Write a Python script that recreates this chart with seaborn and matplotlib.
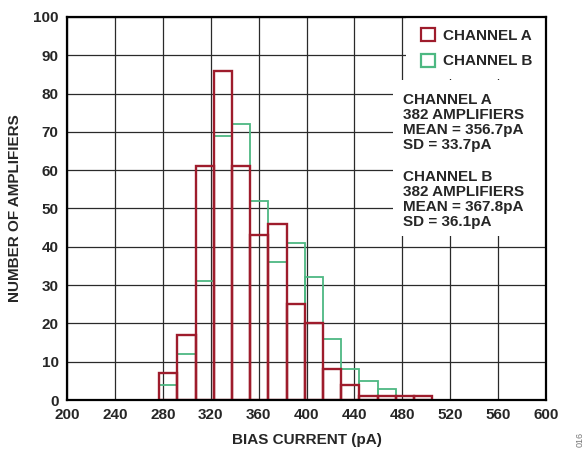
import numpy as np
import pandas as pd
import matplotlib
matplotlib.use("Agg")
import matplotlib.pyplot as plt
from matplotlib.patches import Patch, Rectangle
import seaborn as sns

# Histogram bins (pA) and amplifier counts per bin
bin_start = 277.0
bin_width = 15.2
n_bins = 15
counts_a = [7, 17, 61, 86, 61, 43, 46, 25, 20, 8, 4, 1, 1, 1, 1]
counts_b = [4, 12, 31, 69, 72, 52, 36, 41, 32, 16, 8, 5, 3, 0, 0]

labels = ["CHANNEL A", "CHANNEL B"]
stats_a = ["CHANNEL A", "382 AMPLIFIERS", "MEAN = 356.7pA", "SD = 33.7pA"]
stats_b = ["CHANNEL B", "382 AMPLIFIERS", "MEAN = 367.8pA", "SD = 36.1pA"]

x_ticks = list(range(200, 601, 40))
y_ticks = list(range(0, 101, 10))

RED = "#9E1C2C"
GREEN = "#4DB882"

sns.set_style("white")
plt.rcParams["font.family"] = ["Liberation Sans", "DejaVu Sans"]
plt.rcParams["font.weight"] = "bold"
plt.rcParams["font.size"] = 11

edges = bin_start + bin_width * np.arange(n_bins + 1)
centers = (edges[:-1] + edges[1:]) / 2

fig = plt.figure(figsize=(5.84, 4.50), dpi=100)
ax = fig.add_axes([67 / 584, 50 / 450, 479 / 584, 383 / 450])


def draw_channel(counts, color, lw, z):
    counts = np.asarray(counts, dtype=float)
    last = int(np.nonzero(counts)[0].max())
    df = pd.DataFrame({"current": centers[: last + 1],
                       "count": counts[: last + 1]})
    sns.histplot(data=df, x="current", weights="count",
                 bins=[float(e) for e in edges[: last + 2]],
                 element="bars", fill=False,
                 color=color, linewidth=lw, ax=ax, zorder=z)


draw_channel(counts_b, GREEN, 1.3, 3)
draw_channel(counts_a, RED, 1.7, 4)

ax.set_xlim(200, 600)
ax.set_ylim(0, 100)
ax.set_xticks(x_ticks)
ax.set_yticks(y_ticks)
ax.tick_params(length=0, pad=6, labelsize=11)
for t in ax.get_xticklabels() + ax.get_yticklabels():
    t.set_fontweight("bold")
ax.grid(True, color="#2a2a2a", linewidth=0.9)
ax.set_axisbelow(True)
for s in ax.spines.values():
    s.set_color("black")
    s.set_linewidth(1.6)
    s.set_zorder(5)

ax.set_xlabel("BIAS CURRENT (pA)", fontsize=11, fontweight="bold", labelpad=8)
ax.set_ylabel("NUMBER OF AMPLIFIERS", fontsize=11, fontweight="bold", labelpad=8)

# white panels behind the legend and the statistics text
ax.add_patch(Rectangle((483, 83.9), 117, 16.1, facecolor="white",
                       edgecolor="none", zorder=1.5))
ax.add_patch(Rectangle((472, 42.9), 128, 40.7, facecolor="white",
                       edgecolor="none", zorder=1.5))

handles = [Patch(facecolor="white", edgecolor=RED, linewidth=1.6),
           Patch(facecolor="white", edgecolor=GREEN, linewidth=1.6)]
leg = ax.legend(handles, labels, loc="upper left",
                bbox_to_anchor=(0.738, 0.972), frameon=False,
                handlelength=0.95, handleheight=0.95, handletextpad=0.5,
                borderpad=0.0, borderaxespad=0.0, labelspacing=0.72,
                prop={"weight": "bold", "size": 11})
leg.set_zorder(6)

ax.text(0.7015, 0.802, "\n".join(stats_a), transform=ax.transAxes,
        ha="left", va="top", fontsize=11, fontweight="bold",
        linespacing=1.1, zorder=6)
ax.text(0.7015, 0.601, "\n".join(stats_b), transform=ax.transAxes,
        ha="left", va="top", fontsize=11, fontweight="bold",
        linespacing=1.1, zorder=6)

fig.text(580 / 584, 1 - 432 / 450, "016", rotation=90, fontsize=6.5,
         color="#777777", ha="center", va="top", fontweight="normal")

fig.savefig("out.png", dpi=100)
